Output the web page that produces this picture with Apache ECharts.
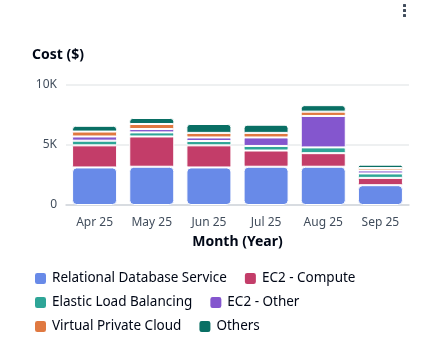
<!DOCTYPE html>
<html>
<head>
<meta charset="utf-8">
<script src="https://cdn.jsdelivr.net/npm/echarts@6/dist/echarts.min.js"></script>
<style>
html,body{margin:0;padding:0;background:#fff;}
#chart{width:429px;height:363px;}
</style>
</head>
<body>
<div id="chart"></div>
<script>
const months = ['Apr 25', 'May 25', 'Jun 25', 'Jul 25', 'Aug 25', 'Sep 25'];
const seriesNames = ['Relational Database Service', 'EC2 - Compute', 'Elastic Load Balancing', 'EC2 - Other', 'Virtual Private Cloud', 'Others'];
const rds = [3130, 3190, 3130, 3190, 3190, 1650];
const ec2Compute = [1840, 2520, 1840, 1350, 1130, 610];
const elb = [390, 340, 360, 380, 480, 370];
const ec2Other = [350, 280, 300, 710, 2620, 250];
const vpc = [410, 420, 380, 380, 360, 200];
const others = [480, 500, 740, 680, 540, 280];
const yTicks = [0, 5000, 10000];
const colors = ['#688ae8', '#c33d69', '#2ea597', '#8456ce', '#e07941', '#096f64'];

const values = [rds, ec2Compute, elb, ec2Other, vpc, others];
const font = '"Noto Sans", "Open Sans", sans-serif';

const chart = echarts.init(document.getElementById('chart'), null, {renderer: 'canvas'});

const series = seriesNames.map((name, i) => ({
  name: name,
  type: 'bar',
  stack: 'cost',
  data: values[i],
  barWidth: 45,
  itemStyle: {
    color: colors[i],
    borderColor: '#ffffff',
    borderWidth: 1,
    borderRadius: i === 0 ? 4 : (i === seriesNames.length - 1 ? [3, 3, 1, 1] : 1)
  },
  emphasis: {disabled: true}
}));

function legendRow(items, top) {
  return {
    left: 33,
    top: top,
    padding: 0,
    orient: 'horizontal',
    itemWidth: 13,
    itemHeight: 13,
    itemGap: 16,
    icon: 'roundRect',
    selectedMode: false,
    data: items,
    textStyle: {fontFamily: font, fontSize: 13.5, color: '#000716'}
  };
}

chart.setOption({
  animation: false,
  color: colors,
  title: {
    text: 'Cost ($)',
    left: 27,
    top: 43,
    textStyle: {fontFamily: font, fontSize: 14, fontWeight: 'bold', color: '#000716'}
  },
  legend: [
    legendRow([seriesNames[0], seriesNames[1]], 271),
    legendRow([seriesNames[2], seriesNames[3]], 295),
    legendRow([seriesNames[4], seriesNames[5]], 319)
  ],
  grid: {left: 66, right: 20, top: 85, bottom: 158, containLabel: false},
  xAxis: {
    type: 'category',
    data: months,
    name: 'Month (Year)',
    nameLocation: 'middle',
    nameGap: 30,
    nameTextStyle: {fontFamily: font, fontSize: 14, fontWeight: 'bold', color: '#000716'},
    axisLine: {lineStyle: {color: '#d1d5db', width: 1.5}},
    axisTick: {alignWithLabel: true, length: 6, lineStyle: {color: '#d1d5db'}},
    axisLabel: {fontFamily: font, fontSize: 12, color: '#414d5c', margin: 12}
  },
  yAxis: {
    type: 'value',
    min: yTicks[0],
    max: yTicks[yTicks.length - 1],
    interval: yTicks[1] - yTicks[0],
    axisLine: {show: false},
    axisTick: {show: false},
    splitLine: {lineStyle: {color: '#e9ebed', width: 1.5}},
    axisLabel: {
      fontFamily: font, fontSize: 12, color: '#414d5c', margin: 9,
      formatter: v => v === 0 ? '0' : (v / 1000) + 'K'
    }
  },
  graphic: [
    {type: 'rect', left: 403, top: 4, shape: {width: 3, height: 3, r: 0.5}, style: {fill: '#414d5c'}},
    {type: 'rect', left: 403, top: 9, shape: {width: 3, height: 3, r: 0.5}, style: {fill: '#414d5c'}},
    {type: 'rect', left: 403, top: 14, shape: {width: 3, height: 3, r: 0.5}, style: {fill: '#414d5c'}}
  ],
  series: series
});
</script>
</body>
</html>
